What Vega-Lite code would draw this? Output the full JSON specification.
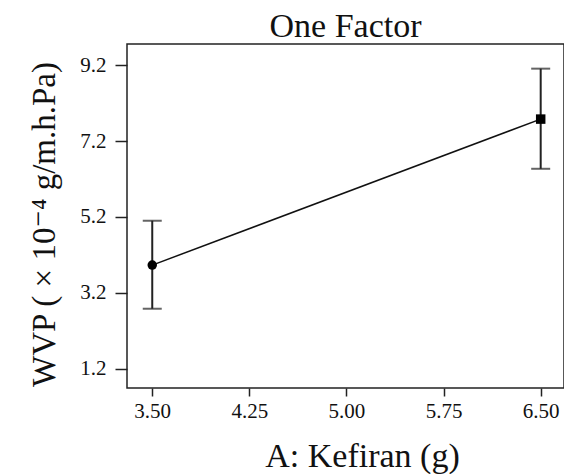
{
  "$schema": "https://vega.github.io/schema/vega-lite/v6.json",
  "width": 437,
  "height": 344,
  "autosize": "none",
  "padding": {"left": 127, "top": 44, "right": 0, "bottom": 86},
  "background": "white",
  "config": {
    "view": {"stroke": "#222", "strokeWidth": 1.5},
    "font": "Liberation Serif, Times New Roman, DejaVu Serif, serif"
  },
  "title": {
    "text": "One Factor",
    "font": "Liberation Serif, Times New Roman, DejaVu Serif, serif",
    "fontSize": 34,
    "fontWeight": "normal",
    "color": "#111",
    "anchor": "middle",
    "frame": "group",
    "baseline": "alphabetic",
    "offset": 7,
    "dy": 34
  },
  "data": {
    "values": [
      {"kefiran": 3.5, "wvp": 3.93, "low": 2.78, "high": 5.10, "level": "Low"},
      {"kefiran": 6.5, "wvp": 7.78, "low": 6.47, "high": 9.11, "level": "High"}
    ]
  },
  "encoding": {
    "x": {
      "field": "kefiran",
      "type": "quantitative",
      "scale": {"domain": [3.305, 6.68], "nice": false, "zero": false},
      "axis": {
        "title": "A: Kefiran (g)",
        "values": [3.5, 4.25, 5, 5.75, 6.5],
        "format": ".2f",
        "grid": false,
        "domain": false,
        "tickColor": "#222",
        "tickWidth": 1.5,
        "tickSize": 8,
        "labelFont": "Liberation Serif, Times New Roman, DejaVu Serif, serif",
        "labelFontSize": 21,
        "labelColor": "#111",
        "labelPadding": 4,
        "titleFont": "Liberation Serif, Times New Roman, DejaVu Serif, serif",
        "titleFontSize": 34,
        "titleFontWeight": "normal",
        "titleColor": "#111",
        "titleX": 235,
        "titleY": 78,
        "titleBaseline": "alphabetic",
        "titleAlign": "center"
      }
    }
  },
  "layer": [
    {
      "mark": {"type": "line", "color": "#111", "strokeWidth": 1.5},
      "encoding": {
        "y": {
          "field": "wvp",
          "type": "quantitative",
          "scale": {"domain": [0.69, 9.76], "nice": false, "zero": false},
          "axis": {
            "title": "WVP ( × 10⁻⁴ g/m.h.Pa)",
            "values": [1.2, 3.2, 5.2, 7.2, 9.2],
            "format": ".1f",
            "grid": false,
            "domain": false,
            "tickColor": "#222",
            "tickWidth": 1.5,
            "tickSize": 12,
            "labelFont": "Liberation Serif, Times New Roman, DejaVu Serif, serif",
            "labelFontSize": 21,
            "labelColor": "#111",
            "labelPadding": 9,
            "titleFont": "Liberation Serif, Times New Roman, DejaVu Serif, serif",
            "titleFontSize": 33,
            "titleFontWeight": "normal",
            "titleColor": "#111",
            "titleX": -73,
            "titleY": 180,
            "titleBaseline": "alphabetic",
            "titleAlign": "center",
            "titleAngle": -90
          }
        }
      }
    },
    {
      "mark": {"type": "rule", "color": "#222", "strokeWidth": 2},
      "encoding": {
        "y": {"field": "low", "type": "quantitative"},
        "y2": {"field": "high"}
      }
    },
    {
      "mark": {"type": "tick", "color": "#222", "orient": "horizontal", "size": 19, "thickness": 2},
      "encoding": {"y": {"field": "low", "type": "quantitative"}}
    },
    {
      "mark": {"type": "tick", "color": "#222", "orient": "horizontal", "size": 19, "thickness": 2},
      "encoding": {"y": {"field": "high", "type": "quantitative"}}
    },
    {
      "mark": {"type": "point", "filled": true, "opacity": 1, "color": "#000", "size": 90},
      "encoding": {
        "y": {"field": "wvp", "type": "quantitative"},
        "shape": {
          "field": "level",
          "type": "nominal",
          "scale": {"domain": ["Low", "High"], "range": ["circle", "square"]},
          "legend": null
        }
      }
    }
  ]
}
